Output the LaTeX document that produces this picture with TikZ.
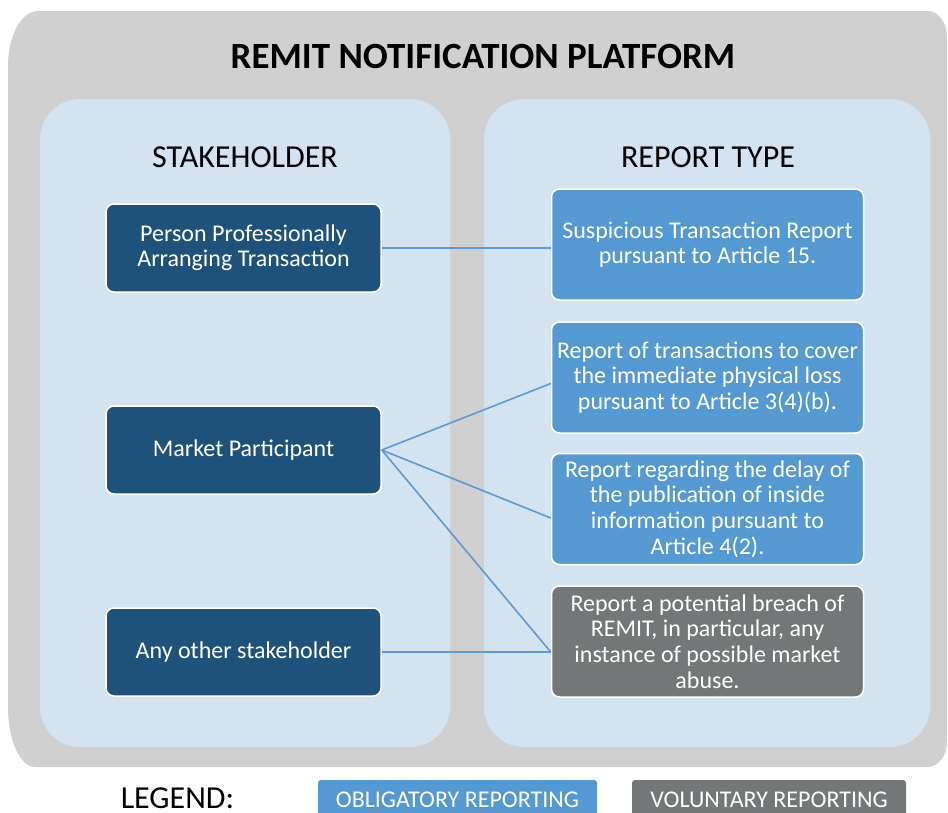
\documentclass[tikz,border=0pt]{standalone}
\usepackage{fontspec}
\setmainfont{Carlito}
\usetikzlibrary{calc}
\definecolor{framegray}{HTML}{D0D0D0}
\definecolor{panelblue}{HTML}{D3E3F0}
\definecolor{stakeblue}{HTML}{1F527A}
\definecolor{obligblue}{HTML}{5599D3}
\definecolor{volungray}{HTML}{737777}
\definecolor{linkblue}{HTML}{5B9BD5}
\tikzset{
  panelbox/.style={fill=panelblue, rounded corners=40pt},
  heading/.style={font=\fontsize{32}{36}\selectfont, text=black, inner sep=0pt},
  stakebox/.style={draw=white, line width=1.5pt, fill=stakeblue, rounded corners=8pt,
    minimum width=275pt, minimum height=88pt, text=white, align=center,
    font=\fontsize{24}{25}\selectfont, inner sep=0pt},
  reportbox/.style={draw=white, line width=1.5pt, fill=obligblue, rounded corners=8pt,
    minimum width=312pt, minimum height=111pt, text=white, align=center,
    font=\fontsize{24}{25.7}\selectfont, inner sep=0pt},
  voluntary/.style={reportbox, fill=volungray},
  connector/.style={draw=linkblue, line width=1.6pt},
  legendbox/.style={rounded corners=3pt},
  legendtext/.style={font=\fontsize{24}{28}\selectfont, text=white, inner sep=0pt, anchor=base}
}
\begin{document}
\begin{tikzpicture}[x=1pt, y=-1pt]
\useasboundingbox (0,0) rectangle (948,812);
\clip (0,0) rectangle (948,812);

% outer platform frame with unequal corner rounding
\fill[framegray]
  (8,66) .. controls (8,35.6) and (21.4,11) .. (38,11)
  -- (929,11) .. controls (937.1,11) and (947,22.2) .. (947,36)
  -- (947,742) .. controls (947,755.8) and (938,767) .. (927,767)
  -- (35,767) .. controls (20.1,767) and (8,740.1) .. (8,707)
  -- cycle;

\node[font=\bfseries\fontsize{37}{42}\selectfont, inner sep=0pt] (title) at (483,56) {REMIT NOTIFICATION PLATFORM};

% the two column panels
\fill[panelbox] (40,99) rectangle (450,747);
\fill[panelbox] (484,99) rectangle (930,747);

\node[heading] (hstake) at (245,157.5) {STAKEHOLDER};
\node[heading] (hreport) at (708,157.5) {REPORT TYPE};

% stakeholders
\node[stakebox] (ppat) at (243.5,248) {Person Professionally\\Arranging Transaction};
\node[stakebox] (mp) at (243.5,450) {Market Participant};
\node[stakebox] (other) at (243.5,652) {Any other stakeholder};

% report types
\node[reportbox] (str) at (707.5,244.5) {Suspicious Transaction Report\\pursuant to Article 15.};
\node[reportbox] (loss) at (707.5,377.5) {Report of transactions to cover\\the immediate physical loss\\pursuant to Article 3(4)(b).};
\node[reportbox] (delay) at (707.5,509) {Report regarding the delay of\\the publication of inside\\information pursuant to\\Article 4(2).};
\node[voluntary] (breach) at (707.5,641.5) {Report a potential breach of\\REMIT, in particular, any\\instance of possible market\\abuse.};

% links between stakeholders and report types
\coordinate (strin) at (ppat.east -| str.west);
\coordinate (lossin) at ($(loss.west)+(0,6)$);
\coordinate (delayin) at ($(delay.west)+(0,9)$);
\coordinate (breachin) at (other.east -| breach.west);
\draw[connector] (ppat.east) -- (strin);
\draw[connector] (mp.east) -- (lossin);
\draw[connector] (mp.east) -- (delayin);
\draw[connector] (mp.east) -- (breachin);
\draw[connector] (other.east) -- (breachin);

% legend
\node[font=\fontsize{32}{36}\selectfont, inner sep=0pt, anchor=base] (legend) at (177.5,808) {LEGEND:};
\fill[obligblue, legendbox] (318,780) rectangle (597,830);
\fill[volungray, legendbox] (632,780) rectangle (906,830);
\node[legendtext] (lobl) at (457.5,807) {OBLIGATORY REPORTING};
\node[legendtext] (lvol) at (769,807) {VOLUNTARY REPORTING};
\end{tikzpicture}
\end{document}
